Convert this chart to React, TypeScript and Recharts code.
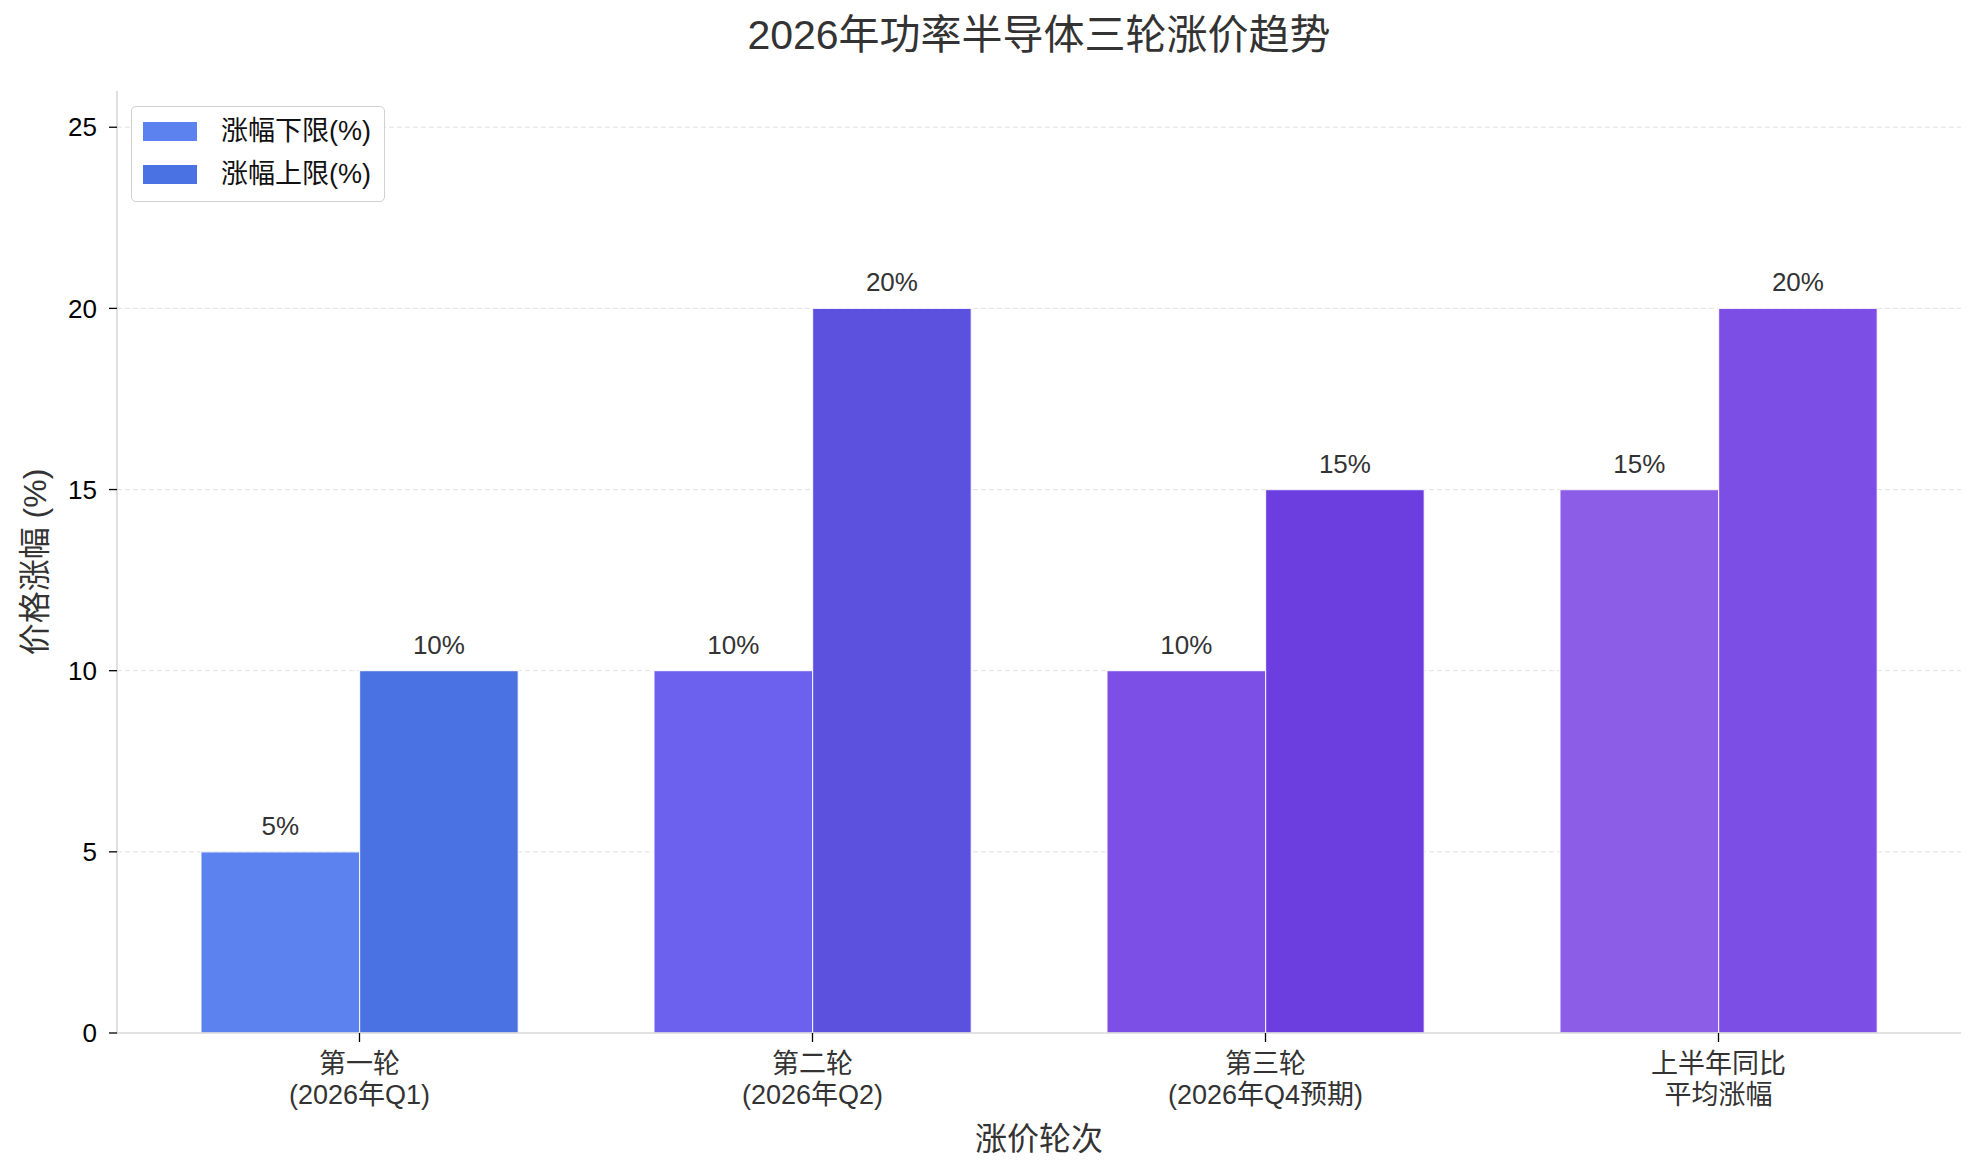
import React from 'react';
import { BarChart, Bar, XAxis, YAxis, CartesianGrid, Legend, Cell, LabelList, Label } from 'recharts';

const categories = ['第一轮\n(2026年Q1)', '第二轮\n(2026年Q2)', '第三轮\n(2026年Q4预期)', '上半年同比\n平均涨幅'];
const lowerValues = [5, 10, 10, 15];
const upperValues = [10, 20, 15, 20];
const lowerColors = ['#5b82ee', '#6c60ee', '#7c50e6', '#8c5ee8'];
const upperColors = ['#4a72e2', '#5c50de', '#6c3ee0', '#7c4ee6'];
const yTicks = [0, 5, 10, 15, 20, 25];
const seriesNames = ['涨幅下限(%)', '涨幅上限(%)'];
const titleText = '2026年功率半导体三轮涨价趋势';
const xLabelText = '涨价轮次';
const yLabelText = '价格涨幅 (%)';

const data = categories.map((c, i) => ({ name: c, lower: lowerValues[i], upper: upperValues[i] }));

const FONT = "'Liberation Sans', 'Noto Sans CJK SC', sans-serif";

const XTick = (props: any) => {
  const { x, y, payload } = props;
  const lines = String(payload.value).split('\n');
  return (
    <g>
      {lines.map((l: string, i: number) => (
        <text
          key={i}
          x={x}
          y={y + 22 + i * 31}
          textAnchor="middle"
          dominantBaseline="central"
          fontSize={27}
          fontFamily={FONT}
          fill="#333"
        >
          {l}
        </text>
      ))}
    </g>
  );
};

const LegendBox = (props: any) => {
  const payload = [...(props.payload || [])].sort(
    (a: any, b: any) => seriesNames.indexOf(a.value) - seriesNames.indexOf(b.value)
  );
  return (
    <div
      style={{
        boxSizing: 'border-box',
        width: 254,
        height: 96,
        border: '1.5px solid #d0d0d0',
        borderRadius: 5,
        background: 'rgba(255,255,255,0.85)',
        position: 'relative',
        fontFamily: FONT,
      }}
    >
      {payload.map((entry: any, i: number) => (
        <div
          key={entry.value}
          style={{ position: 'absolute', left: 11, top: 15 + i * 43, display: 'flex', alignItems: 'center', height: 19 }}
        >
          <span style={{ display: 'inline-block', width: 54, height: 19, background: entry.color }} />
          <span style={{ marginLeft: 24, fontSize: 27, color: '#111', lineHeight: '19px', whiteSpace: 'nowrap' }}>
            {entry.value}
          </span>
        </div>
      ))}
    </div>
  );
};

export default function App() {
  return (
    <div style={{ position: 'absolute', left: 0, top: 0, width: 1980, height: 1175, background: '#fff' }}>
      <div
        style={{
          position: 'absolute',
          left: 117,
          width: 1844,
          top: 14,
          textAlign: 'center',
          fontSize: 41,
          lineHeight: '42px',
          color: '#333',
          fontFamily: FONT,
          zIndex: 2,
        }}
      >
        {titleText}
      </div>
      <BarChart
        width={1980}
        height={1175}
        data={data}
        margin={{ top: 91, right: 19, left: 0, bottom: 0 }}
        barGap={0}
        barSize={158.6}
      >
        <CartesianGrid
          vertical={false}
          horizontalValues={yTicks.filter((t) => t > 0)}
          stroke="#e3e3e3"
          strokeDasharray="5 3"
          strokeWidth={1}
        />
        <XAxis
          dataKey="name"
          height={142}
          padding={{ left: 16, right: 16 }}
          interval={0}
          tickSize={9}
          tickMargin={0}
          tick={<XTick />}
          tickLine={{ stroke: '#000', strokeWidth: 1.3 }}
          axisLine={{ stroke: '#d8d8d8', strokeWidth: 1.6 }}
        >
          <Label
            content={(p: any) => {
              const vb = p.viewBox;
              return (
                <text
                  x={vb.x + vb.width / 2}
                  y={vb.y + 106}
                  textAnchor="middle"
                  dominantBaseline="central"
                  fontSize={32}
                  fontFamily={FONT}
                  fill="#333"
                >
                  {xLabelText}
                </text>
              );
            }}
          />
        </XAxis>
        <YAxis
          type="number"
          domain={[0, 26]}
          ticks={yTicks}
          width={117}
          tickSize={8}
          tickMargin={12}
          tick={{ fill: '#000', fontSize: 26, fontFamily: FONT }}
          tickLine={{ stroke: '#000', strokeWidth: 1.3 }}
          axisLine={{ stroke: '#d8d8d8', strokeWidth: 1.6 }}
        >
          <Label
            content={(p: any) => {
              const vb = p.viewBox;
              const cx = vb.x + 35;
              const cy = vb.y + vb.height / 2;
              return (
                <text
                  x={cx}
                  y={cy}
                  textAnchor="middle"
                  dominantBaseline="central"
                  fontSize={32}
                  fontFamily={FONT}
                  fill="#333"
                  transform={`rotate(-90 ${cx} ${cy})`}
                >
                  {yLabelText}
                </text>
              );
            }}
          />
        </YAxis>
        <Legend
          layout="vertical"
          align="center"
          verticalAlign="middle"
          wrapperStyle={{ left: 131, top: 106, width: 254, height: 96 }}
          content={<LegendBox />}
        />
        <Bar
          dataKey="lower"
          name={seriesNames[0]}
          fill={lowerColors[0]}
          stroke="#ffffff"
          strokeWidth={1.2}
          strokeOpacity={0.8}
          isAnimationActive={false}
        >
          {data.map((d, i) => (
            <Cell key={`l${i}`} fill={lowerColors[i]} />
          ))}
          <LabelList
            dataKey="lower"
            position="top"
            offset={17}
            formatter={(v: any) => `${v}%`}
            fill="#333"
            fontSize={26}
            fontFamily={FONT}
          />
        </Bar>
        <Bar
          dataKey="upper"
          name={seriesNames[1]}
          fill={upperColors[0]}
          stroke="#ffffff"
          strokeWidth={1.2}
          strokeOpacity={0.8}
          isAnimationActive={false}
        >
          {data.map((d, i) => (
            <Cell key={`u${i}`} fill={upperColors[i]} />
          ))}
          <LabelList
            dataKey="upper"
            position="top"
            offset={17}
            formatter={(v: any) => `${v}%`}
            fill="#333"
            fontSize={26}
            fontFamily={FONT}
          />
        </Bar>
      </BarChart>
    </div>
  );
}
